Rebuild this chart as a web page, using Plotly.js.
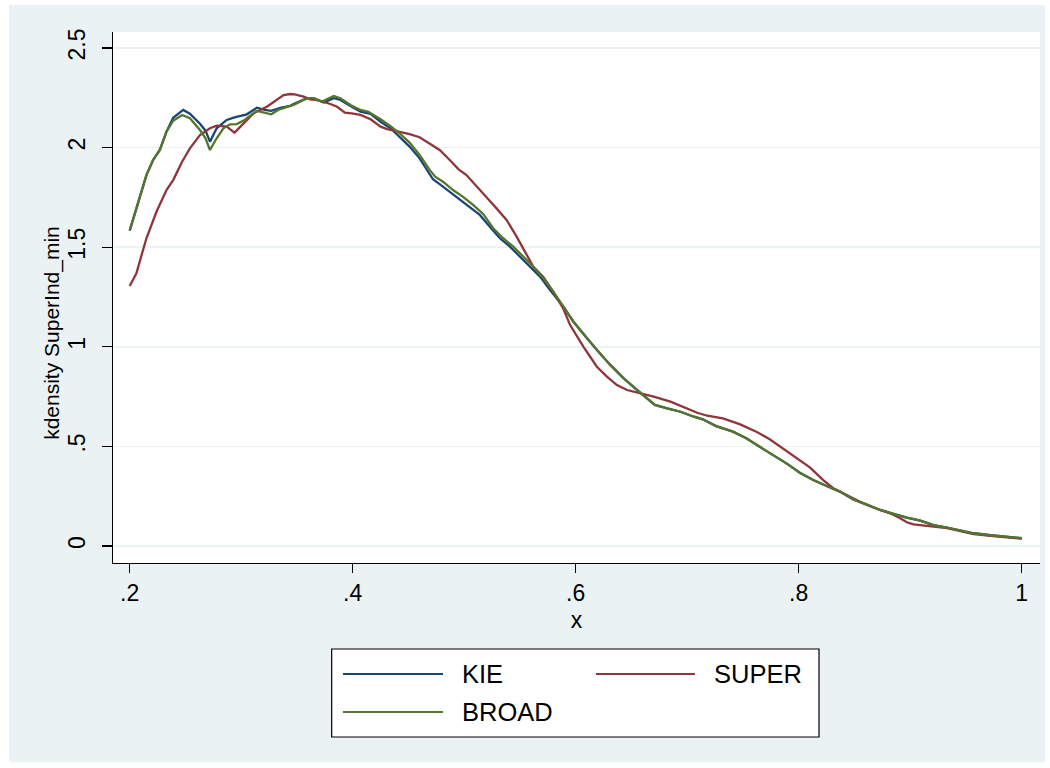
<!DOCTYPE html>
<html>
<head>
<meta charset="utf-8">
<script src="https://cdn.plot.ly/plotly-3.0.1.min.js"></script>
<style>
  html, body { margin: 0; padding: 0; background: #ffffff; }
  #chart { position: absolute; left: 9px; top: 5px; width: 1036px; height: 757px; }
</style>
</head>
<body>
<div id="chart"></div>
<script>
// ---- data ----
const seriesNames = ["KIE", "SUPER", "BROAD"];

const kieX = [0.200,0.206,0.215,0.221,0.227,0.233,0.239,0.248,0.254,0.263,0.268,0.272,0.278,0.287,0.294,0.305,0.314,0.321,0.327,0.335,0.344,0.347,0.359,0.365,0.374,0.383,0.389,0.398,0.407,0.416,0.425,0.434,0.442,0.451,0.460,0.466,0.472,0.478,0.487,0.496,0.505,0.514,0.523,0.532,0.541,0.550,0.559,0.568,0.577,0.589,0.598,0.610,0.619,0.631,0.643,0.655,0.664,0.671,0.682,0.694,0.706,0.714,0.720,0.726,0.741,0.753,0.765,0.777,0.789,0.801,0.813,0.825,0.837,0.849,0.861,0.873,0.885,0.897,0.909,0.921,0.933,0.945,0.957,0.972,0.987,1.000];
const kieY = [1.583,1.695,1.862,1.938,1.988,2.080,2.150,2.189,2.170,2.120,2.085,2.030,2.097,2.139,2.152,2.167,2.200,2.189,2.184,2.200,2.210,2.219,2.248,2.248,2.226,2.248,2.239,2.209,2.180,2.169,2.130,2.097,2.055,2.005,1.946,1.896,1.841,1.817,1.779,1.740,1.703,1.662,1.603,1.545,1.503,1.452,1.402,1.352,1.285,1.201,1.126,1.043,0.984,0.909,0.842,0.783,0.741,0.708,0.691,0.674,0.649,0.636,0.619,0.602,0.574,0.541,0.498,0.457,0.415,0.368,0.331,0.301,0.273,0.234,0.206,0.181,0.161,0.142,0.127,0.105,0.092,0.077,0.064,0.054,0.047,0.039];

const broadX = [0.200,0.206,0.215,0.221,0.227,0.233,0.239,0.247,0.254,0.263,0.268,0.272,0.278,0.284,0.290,0.296,0.303,0.314,0.320,0.327,0.333,0.344,0.347,0.359,0.365,0.372,0.383,0.389,0.398,0.407,0.414,0.425,0.434,0.442,0.451,0.460,0.469,0.474,0.481,0.490,0.499,0.508,0.517,0.526,0.535,0.544,0.553,0.562,0.571,0.580,0.590,0.598,0.610,0.619,0.631,0.643,0.655,0.664,0.671,0.682,0.694,0.706,0.714,0.720,0.726,0.741,0.753,0.765,0.777,0.789,0.801,0.813,0.825,0.837,0.849,0.861,0.873,0.885,0.897,0.909,0.921,0.933,0.945,0.957,0.972,0.987,1.000];
const broadY = [1.583,1.695,1.862,1.938,1.988,2.080,2.135,2.164,2.147,2.088,2.047,1.988,2.047,2.097,2.117,2.118,2.139,2.184,2.177,2.167,2.189,2.210,2.214,2.248,2.248,2.230,2.259,2.248,2.214,2.189,2.180,2.142,2.108,2.072,2.025,1.963,1.888,1.854,1.829,1.787,1.753,1.712,1.667,1.595,1.545,1.503,1.452,1.402,1.344,1.277,1.193,1.126,1.043,0.984,0.909,0.842,0.783,0.741,0.708,0.691,0.674,0.649,0.636,0.619,0.602,0.574,0.541,0.498,0.457,0.415,0.368,0.331,0.301,0.273,0.234,0.206,0.181,0.161,0.142,0.127,0.105,0.092,0.077,0.064,0.054,0.047,0.039];

const superX = [0.200,0.206,0.215,0.224,0.233,0.239,0.247,0.254,0.263,0.272,0.278,0.287,0.294,0.302,0.311,0.323,0.332,0.338,0.344,0.348,0.356,0.362,0.368,0.380,0.386,0.393,0.399,0.407,0.416,0.425,0.431,0.440,0.451,0.460,0.469,0.478,0.487,0.495,0.502,0.511,0.520,0.529,0.538,0.547,0.555,0.562,0.571,0.580,0.589,0.595,0.607,0.619,0.628,0.637,0.646,0.658,0.670,0.685,0.697,0.709,0.718,0.732,0.747,0.762,0.774,0.786,0.798,0.810,0.822,0.831,0.843,0.855,0.873,0.882,0.891,0.897,0.903,0.915,0.921,0.933,0.945,0.957,0.972,0.987,1.000];
const superY = [1.305,1.369,1.545,1.678,1.787,1.837,1.929,1.996,2.063,2.097,2.110,2.105,2.075,2.122,2.172,2.205,2.239,2.264,2.269,2.267,2.256,2.242,2.239,2.219,2.205,2.175,2.172,2.164,2.142,2.105,2.093,2.083,2.068,2.052,2.022,1.988,1.938,1.891,1.862,1.804,1.751,1.695,1.637,1.553,1.469,1.402,1.350,1.275,1.190,1.109,1.000,0.900,0.850,0.808,0.783,0.767,0.750,0.725,0.699,0.669,0.654,0.641,0.612,0.574,0.536,0.490,0.445,0.395,0.331,0.290,0.256,0.222,0.181,0.164,0.139,0.119,0.109,0.100,0.097,0.090,0.075,0.060,0.051,0.044,0.037];

const xTickVals = [0.2, 0.4, 0.6, 0.8, 1];
const xTickText = [".2", ".4", ".6", ".8", "1"];
const yTickVals = [0, 0.5, 1, 1.5, 2, 2.5];
const yTickText = ["0", ".5", "1", "1.5", "2", "2.5"];
const xTitle = "x";
const yTitle = "kdensity SuperInd_min";

// ---- styles ----
const colors = { KIE: "#1a476f", SUPER: "#90353b", BROAD: "#55752f" };
const FONT = "Liberation Sans, Arial, Helvetica, sans-serif";

const traces = [
  { x: kieX, y: kieY, name: seriesNames[0] },
  { x: superX, y: superY, name: seriesNames[1] },
  { x: broadX, y: broadY, name: seriesNames[2] }
].map(t => ({
  type: "scatter", mode: "lines", x: t.x, y: t.y, name: t.name,
  line: { color: colors[t.name], width: 2.3, shape: "linear" },
  hoverinfo: "skip", showlegend: false
}));

// custom Stata-style legend (box, keys, labels) in paper coordinates
const legendBox = { x0: 0.2359, x1: 0.7616, y0: -0.3277, y1: -0.1620 };
const legendSlots = [
  { lx0: 0.2481, lx1: 0.3560, y: -0.2090, tx: 0.3743 },
  { lx0: 0.5210, lx1: 0.6278, y: -0.2090, tx: 0.6462 },
  { lx0: 0.2481, lx1: 0.3560, y: -0.2806, tx: 0.3743 }
];
const shapes = [{
  type: "rect", xref: "paper", yref: "paper",
  x0: legendBox.x0, x1: legendBox.x1, y0: legendBox.y0, y1: legendBox.y1,
  line: { color: "#000000", width: 1.2 }, fillcolor: "#ffffff", layer: "above"
}];
const annotations = [];
seriesNames.forEach((n, i) => {
  const s = legendSlots[i];
  shapes.push({ type: "line", xref: "paper", yref: "paper",
    x0: s.lx0, x1: s.lx1, y0: s.y, y1: s.y,
    line: { color: colors[n], width: 2.2 }, layer: "above" });
  annotations.push({ xref: "paper", yref: "paper", x: s.tx, y: s.y,
    xanchor: "left", yanchor: "middle", showarrow: false, text: n,
    font: { family: FONT, size: 25.5, color: "#000000" } });
});
// y-axis title placed as in the reference
annotations.push({ xref: "paper", yref: "paper", x: -0.0660, y: 0.4331,
  xanchor: "center", yanchor: "middle", showarrow: false, textangle: -90,
  text: yTitle, font: { family: FONT, size: 21, color: "#000000" } });

const layout = {
  width: 1036, height: 757,
  margin: { l: 104, r: 5, t: 27, b: 199 },
  paper_bgcolor: "#eaf2f3",
  plot_bgcolor: "#ffffff",
  font: { family: FONT, color: "#000000", size: 21 },
  showlegend: false,
  xaxis: {
    range: [0.18502, 1.01641], tickvals: xTickVals, ticktext: xTickText,
    showgrid: false, zeroline: false,
    showline: true, linecolor: "#000000", linewidth: 1.3,
    ticks: "outside", ticklen: 9, tickwidth: 1.3, tickcolor: "#000000",
    tickfont: { family: FONT, size: 23, color: "#000000" },
    title: { text: xTitle, font: { family: FONT, size: 23, color: "#000000" }, standoff: 7 }
  },
  yaxis: {
    range: [-0.0853, 2.5803], tickvals: yTickVals, ticktext: yTickText,
    showgrid: true, gridcolor: "#eaf2f3", gridwidth: 1.6, zeroline: false,
    showline: true, linecolor: "#000000", linewidth: 1.3,
    ticks: "outside", ticklen: 10, tickwidth: 1.3, tickcolor: "#000000",
    tickangle: -90, ticklabelstandoff: 8,
    tickfont: { family: FONT, size: 23, color: "#000000" }
  },
  shapes: shapes,
  annotations: annotations
};

Plotly.newPlot("chart", traces, layout, { displayModeBar: false, staticPlot: true });
</script>
</body>
</html>
